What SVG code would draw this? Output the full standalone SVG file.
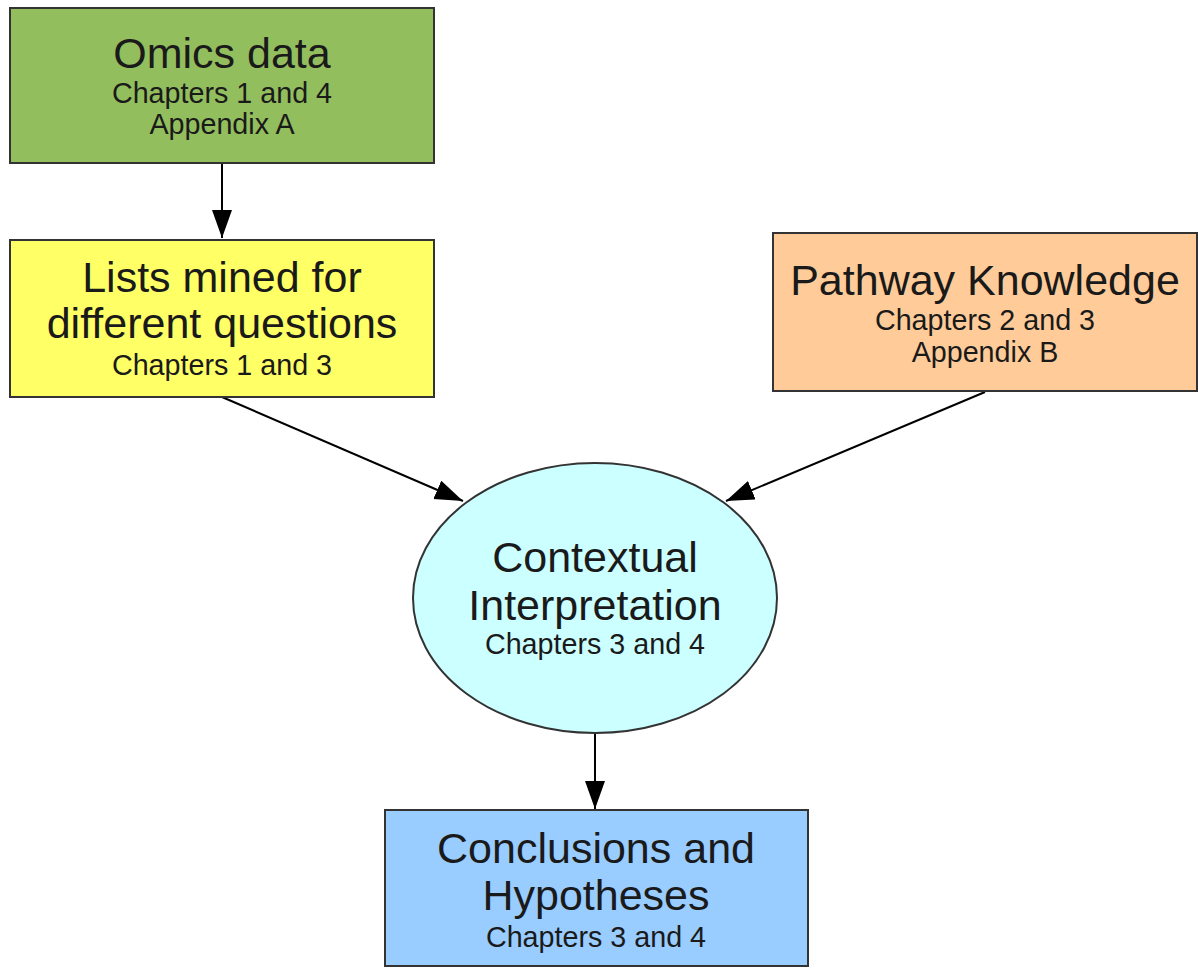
<svg xmlns="http://www.w3.org/2000/svg" width="1198" height="968" viewBox="0 0 1198 968">
<style>
  .box { stroke: #333333; stroke-width: 2; }
  .big { font-family: "Liberation Sans", Arial, sans-serif; font-size: 43px; fill: #1a1a1a; text-anchor: middle; }
  .small { font-family: "Liberation Sans", Arial, sans-serif; font-size: 28.7px; fill: #1a1a1a; text-anchor: middle; }
  .edge { stroke: #000000; stroke-width: 2; fill: none; marker-end: url(#arrow); }
</style>
<defs>
  <marker id="arrow" markerUnits="userSpaceOnUse" markerWidth="30" markerHeight="22" refX="28" refY="10" orient="auto" viewBox="0 0 30 22">
    <path d="M0,0 L28,10 L0,20 z" fill="#000000"/>
  </marker>
</defs>
<rect width="1198" height="968" fill="#ffffff"/>
<g id="connectors">
  <line class="edge" x1="222" y1="164" x2="222" y2="238"/>
  <line class="edge" x1="222" y1="397" x2="463" y2="501"/>
  <line class="edge" x1="985" y1="392" x2="726" y2="501"/>
  <line class="edge" x1="595" y1="733" x2="595" y2="809"/>
</g>
<g id="omics">
  <rect class="box" x="10" y="8" width="424" height="155" fill="#93BE5E"/>
  <text class="big" x="222" y="68">Omics data</text>
  <text class="small" x="222" y="103">Chapters 1 and 4</text>
  <text class="small" x="222" y="134">Appendix A</text>
</g>
<g id="lists">
  <rect class="box" x="10" y="240" width="424" height="157" fill="#FFFF66"/>
  <text class="big" x="222" y="292">Lists mined for</text>
  <text class="big" x="222" y="338">different questions</text>
  <text class="small" x="222" y="375">Chapters 1 and 3</text>
</g>
<g id="pathway">
  <rect class="box" x="773" y="233" width="424" height="158" fill="#FFCC99"/>
  <text class="big" x="985" y="295">Pathway Knowledge</text>
  <text class="small" x="985" y="330">Chapters 2 and 3</text>
  <text class="small" x="985" y="362">Appendix B</text>
</g>
<g id="contextual">
  <ellipse class="box" cx="595" cy="598" rx="182" ry="135" fill="#CCFFFF"/>
  <text class="big" x="595" y="572">Contextual</text>
  <text class="big" x="595" y="620">Interpretation</text>
  <text class="small" x="595" y="654">Chapters 3 and 4</text>
</g>
<g id="conclusions">
  <rect class="box" x="385" y="810" width="423" height="156" fill="#99CCFF"/>
  <text class="big" x="596" y="863">Conclusions and</text>
  <text class="big" x="596" y="910">Hypotheses</text>
  <text class="small" x="596" y="947">Chapters 3 and 4</text>
</g>
</svg>
